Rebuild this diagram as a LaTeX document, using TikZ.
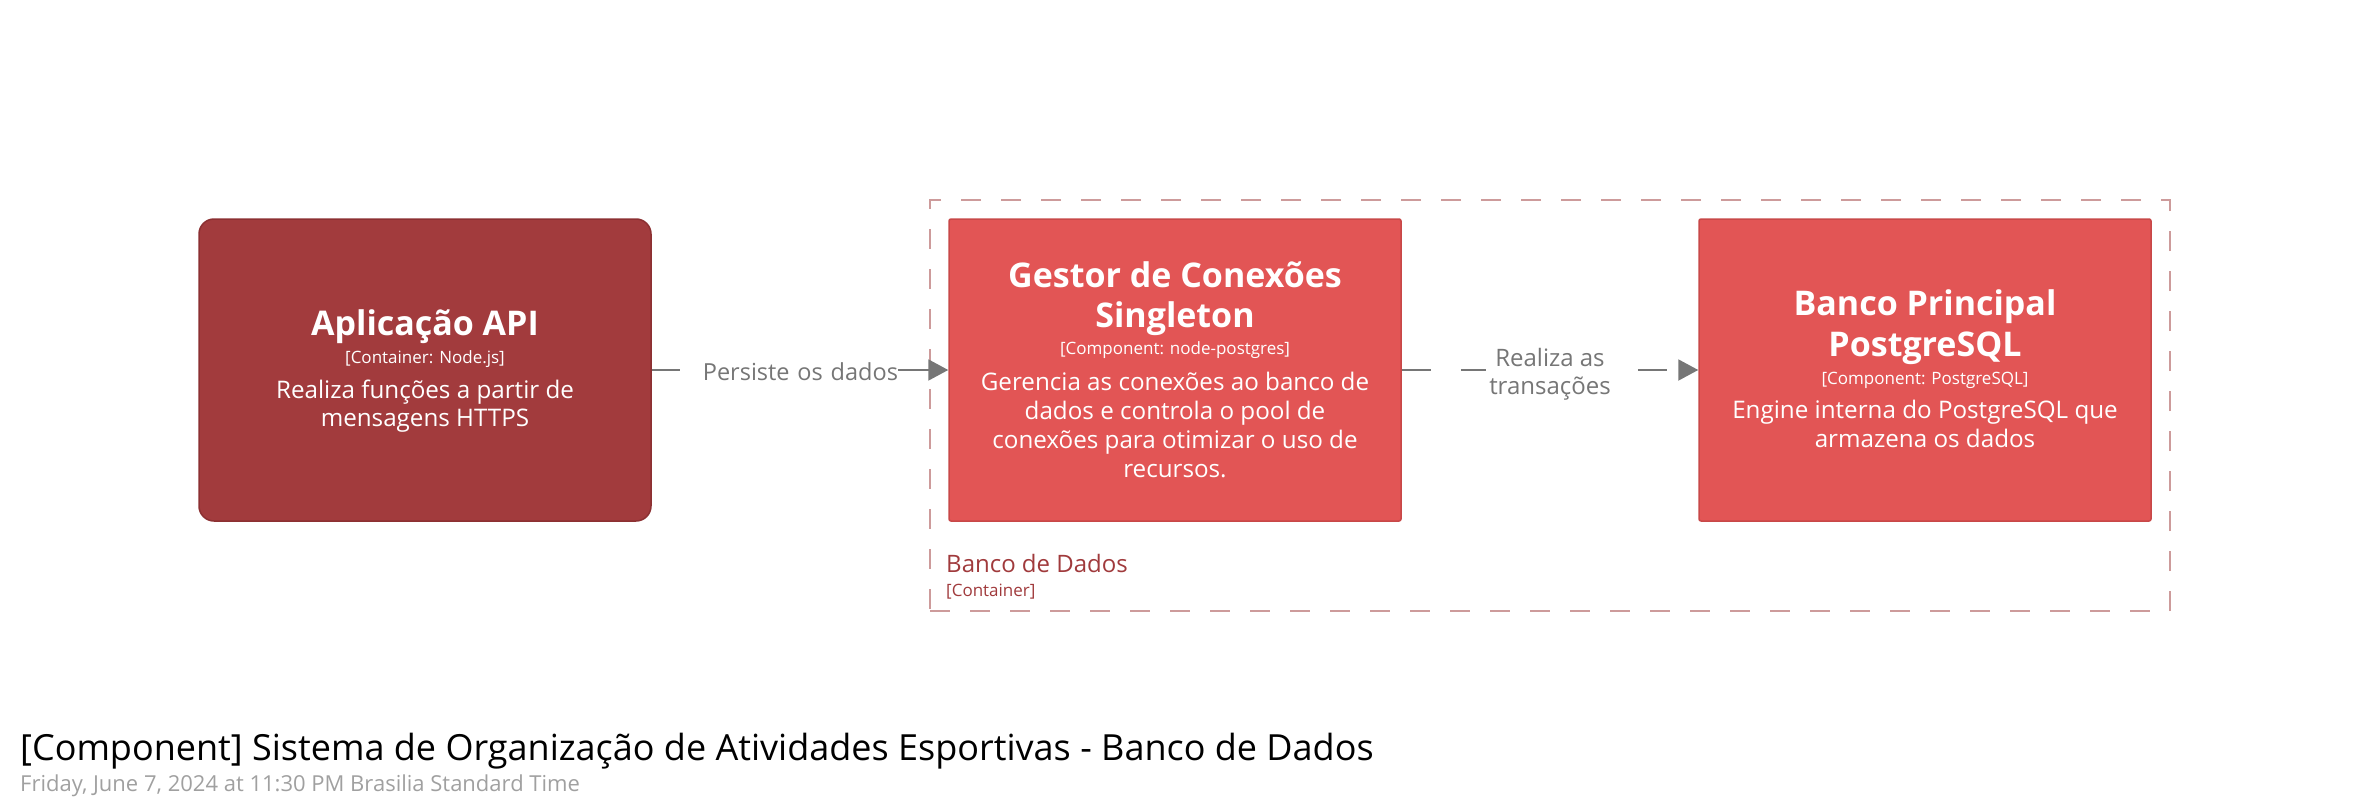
\documentclass[tikz,border=0pt]{standalone}
\usepackage{fontspec}
\setmainfont{Open Sans}
\usetikzlibrary{arrows.meta}
\definecolor{apifill}{RGB}{162,59,61}
\definecolor{apiline}{RGB}{140,48,50}
\definecolor{compfill}{RGB}{226,85,85}
\definecolor{compline}{RGB}{200,72,72}
\definecolor{bndline}{RGB}{205,155,155}
\definecolor{bndtext}{RGB}{160,58,60}
\definecolor{edgecol}{RGB}{118,118,118}
\definecolor{datecol}{RGB}{160,160,160}
\tikzset{
  box/.style={draw, line width=1.5pt, minimum width=452pt, minimum height=302pt, inner sep=0pt},
  apibox/.style={box, fill=apifill, draw=apiline, rounded corners=15pt},
  compbox/.style={box, fill=compfill, draw=compline, rounded corners=2pt},
  ttl/.style={anchor=base, text=white, font=\fontsize{34}{41}\selectfont\bfseries, inner sep=0pt},
  tech/.style={anchor=base, text=white, font=\fontsize{17}{20}\selectfont, inner sep=0pt},
  desc/.style={anchor=base, text=white, font=\fontsize{24.2}{29}\selectfont, inner sep=0pt},
  edge/.style={draw=edgecol, line width=2pt, -{Triangle[length=20pt,width=21pt]}},
  elabel/.style={fill=white, text=edgecol, font=\fontsize{24}{28}\selectfont, inner sep=0pt},
}
\begin{document}
\begin{tikzpicture}[x=1pt,y=-1pt]
\useasboundingbox (0,0) rectangle (2370,811);
% boundary
\node[draw=bndline, line width=2pt, dash pattern=on 20pt off 20pt, minimum width=1240pt, minimum height=411pt, inner sep=0pt] (bnd) at (1550,405.5) {};
\node[anchor=base west, text=bndtext, font=\fontsize{24}{28}\selectfont, inner sep=0pt] (bndT) at (946,572) {Banco de Dados};
\node[anchor=base west, text=bndtext, font=\fontsize{17}{20}\selectfont, inner sep=0pt] (bndS) at (946,596) {[Container]};
% boxes
\node[apibox] (api) at (425,370) {};
\node[compbox] (gestor) at (1175,370) {};
\node[compbox] (banco) at (1925,370) {};
% API text
\node[ttl] (apiT) at (425,335) {Aplicação API};
\node[tech] (apiS) at (425,363) {[Container: Node.js]};
\node[desc] (apiD1) at (425,398) {Realiza funções a partir de};
\node[desc] (apiD2) at (425,426) {mensagens HTTPS};
% Gestor text
\node[ttl] (gT1) at (1175,287) {Gestor de Conexões};
\node[ttl] (gT2) at (1175,327) {Singleton};
\node[tech] (gS) at (1175,354) {[Component: node-postgres]};
\node[desc] (gD1) at (1175,390) {Gerencia as conexões ao banco de};
\node[desc] (gD2) at (1175,419) {dados e controla o pool de};
\node[desc] (gD3) at (1175,448) {conexões para otimizar o uso de};
\node[desc] (gD4) at (1175,477) {recursos.};
% Banco text
\node[ttl] (bT1) at (1925,315) {Banco Principal};
\node[ttl] (bT2) at (1925,356) {PostgreSQL};
\node[tech] (bS) at (1925,384) {[Component: PostgreSQL]};
\node[desc] (bD1) at (1925,418) {Engine interna do PostgreSQL que};
\node[desc] (bD2) at (1925,447) {armazena os dados};
% edges
\draw[edge] (api.east) -- (gestor.west);
\node[elabel, font=\fontsize{23.5}{28}\selectfont, text width=218pt, align=right, minimum height=34pt] (e1) at (789,372) {Persiste os dados};
\draw[edge, dash pattern=on 29pt off 30pt] (gestor.east) -- (banco.west);
\node[elabel, align=center, minimum width=128pt] (e2) at (1550,374) {Realiza as\\transações};
% title
\node[anchor=base west, font=\fontsize{36}{40}\selectfont, inner sep=0pt] (title) at (20,760) {[Component] Sistema de Organização de Atividades Esportivas - Banco de Dados};
\node[anchor=base west, text=datecol, font=\fontsize{22}{24}\selectfont, inner sep=0pt] (date) at (20,791) {Friday, June 7, 2024 at 11:30 PM Brasilia Standard Time};
\end{tikzpicture}
\end{document}
